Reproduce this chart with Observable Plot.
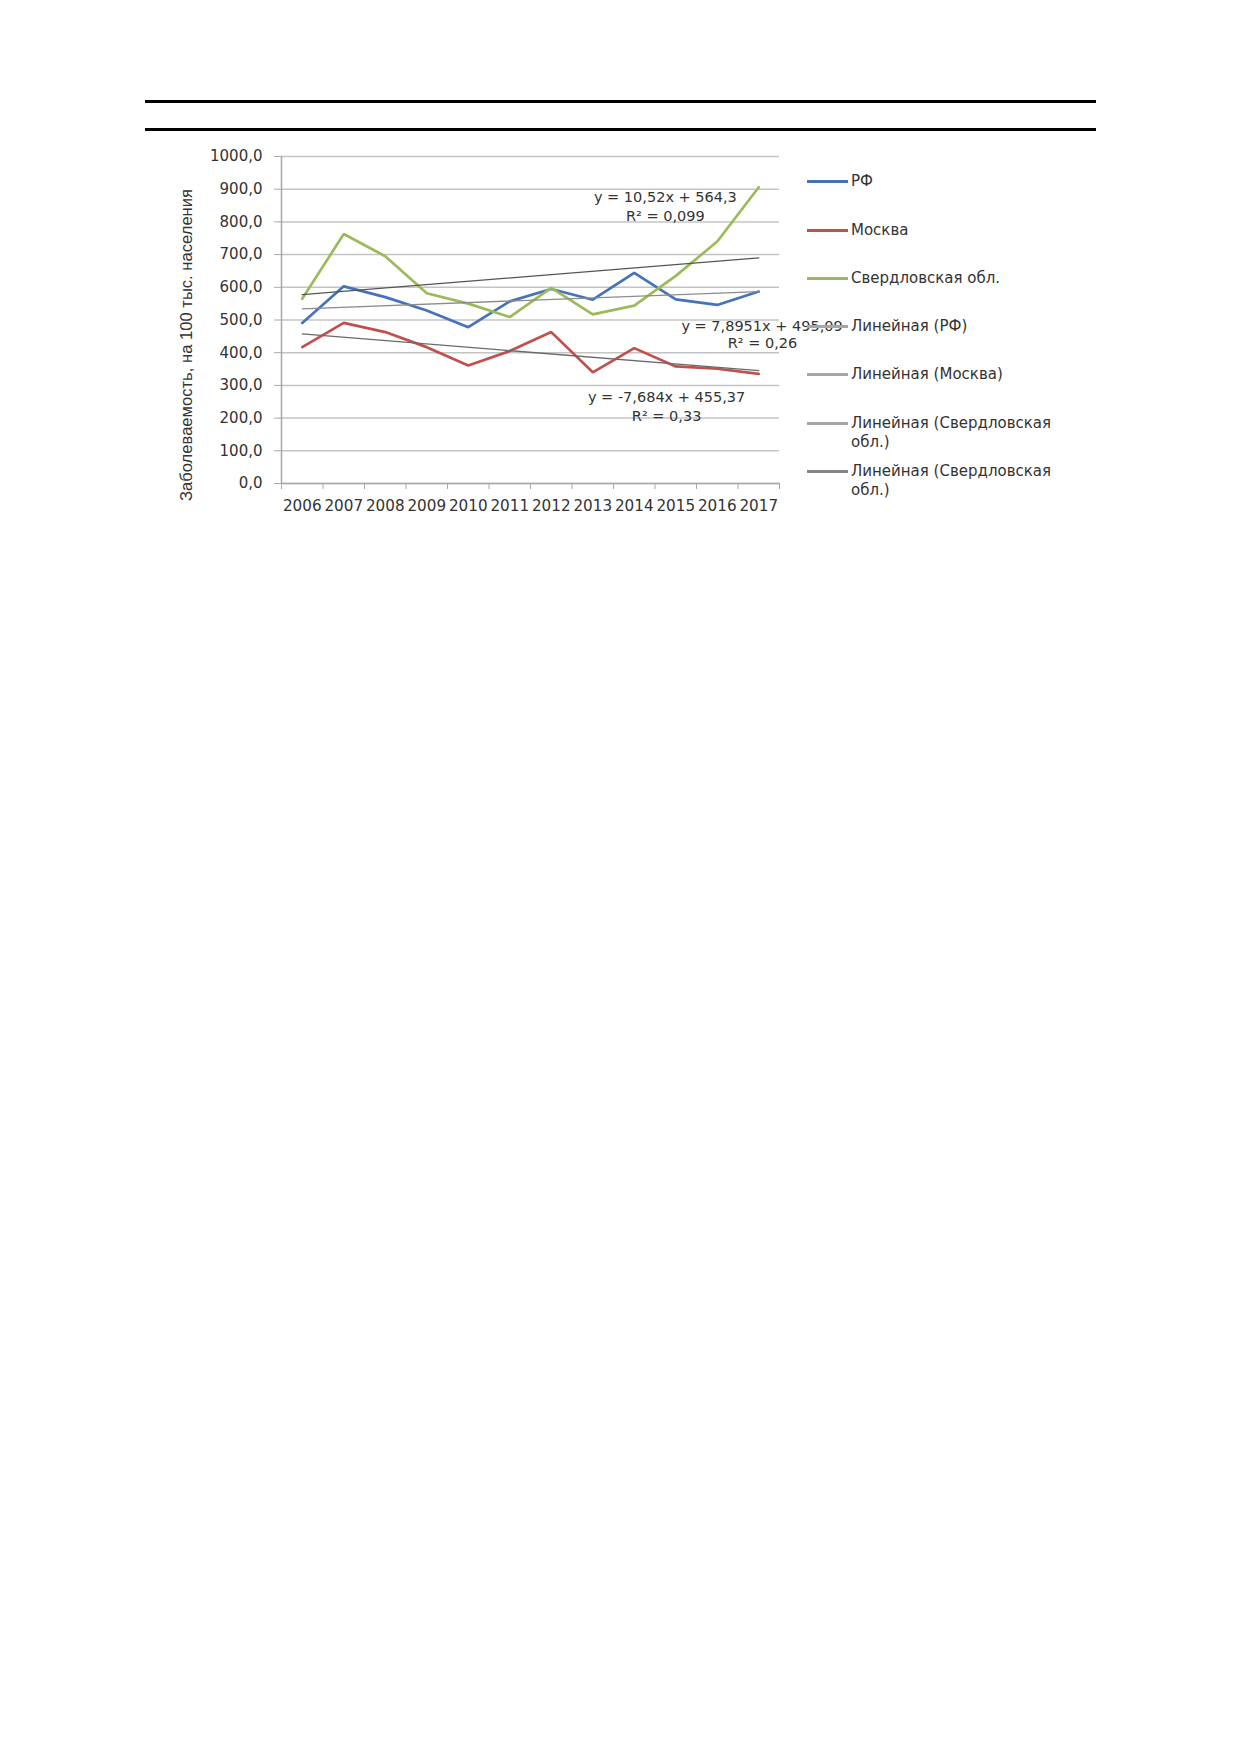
<!DOCTYPE html>
<html><head><meta charset="utf-8">
<script src="https://cdn.jsdelivr.net/npm/d3@7"></script>
<script src="https://cdn.jsdelivr.net/npm/@observablehq/plot@0.6"></script>
<style>
body{margin:0;background:#fff;}
#page{position:relative;width:1239px;height:1752px;background:#fff;overflow:hidden;}
.rule{position:absolute;left:145px;width:951px;height:3px;background:#000;z-index:2;}
#chart{position:absolute;left:0;top:0;z-index:1;}
#ytitle{position:absolute;left:187px;top:345px;transform:translate(-50%,-50%) rotate(-90deg);white-space:nowrap;font-family:"Liberation Sans",Arial,sans-serif;font-size:16.6px;color:#333;z-index:2;}
.leg{position:absolute;left:807px;font-family:"DejaVu Sans",sans-serif;font-size:15px;color:#333;line-height:19px;z-index:3;}
.leg .sw{position:absolute;left:0;top:8px;width:41px;height:3px;}
.leg .tx{position:absolute;left:44px;top:0;white-space:pre;}
</style></head><body><div id="page">
<div id="chart"></div>
<div class="rule" style="top:100px"></div>
<div class="rule" style="top:127.5px"></div>
<div id="ytitle"></div>
</div>
<script>
const years = [2006,2007,2008,2009,2010,2011,2012,2013,2014,2015,2016,2017];
const rf     = [491,603,570,529,478,557,595,562,644,563,546,587];
const moscow = [417,491,463,417,361,405,463,340,414,358,351,335];
const sverd  = [565,763,695,582,550,509,598,517,544,635,740,906];
const seriesNames = ["РФ","Москва","Свердловская обл."];
const seriesColors = ["#4473b9","#c0504d","#9bbb59"];
const trendColors = ["#8c8c8c","#6a6a6a","#555555"];
const yTicks = [0,100,200,300,400,500,600,700,800,900,1000];
const yTitle = "Заболеваемость, на 100 тыс. населения";
const legendLabels = ["РФ","Москва","Свердловская обл.","Линейная (РФ)","Линейная (Москва)","Линейная (Свердловская\nобл.)","Линейная (Свердловская\nобл.)"];
const legendColors = ["#4473b9","#c0504d","#9bbb59","#a6a6a6","#a6a6a6","#a6a6a6","#858585"];
const eqText = ["y = 10,52x + 564,3","R² = 0,099","y = 7,8951x + 495,09","R² = 0,26","y = -7,684x + 455,37","R² = 0,33"];
const eqX = [2014.75,2014.75,2017.08,2017.09,2014.78,2014.78];
const eqY = [875,817,480,428,264,205];

const rows = [];
[rf, moscow, sverd].forEach((arr, i) => arr.forEach((v, j) => rows.push({year: years[j], value: v, series: seriesNames[i]})));
const eqs = eqText.map((t, i) => ({t, x: eqX[i], y: eqY[i]}));
const bounds = d3.range(years.length + 1).map(i => years[0] - 0.5 + i);

const font = "DejaVu Sans, sans-serif";
const chart = Plot.plot({
  width: 1239, height: 560,
  marginLeft: 281, marginRight: 460, marginTop: 156, marginBottom: 77,
  style: {background: "#fff", fontFamily: font, fontSize: "15px", color: "#333"},
  x: {domain: [years[0] - 0.5, years[years.length - 1] + 0.5]},
  y: {domain: [0, 1000]},
  marks: [
    Plot.gridY(yTicks, {stroke: "#c4c4c4", strokeOpacity: 1, strokeWidth: 1.5}),
    Plot.ruleX([years[0] - 0.5], {stroke: "#a8a8a8", strokeWidth: 1.5}),
    Plot.ruleY([0], {stroke: "#a8a8a8", strokeWidth: 1.5}),
    Plot.axisY({ticks: yTicks, tickSize: 7, tickPadding: 12, stroke: "#a8a8a8", fill: "#333", fontSize: 15,
      tickFormat: d => d.toFixed(1).replace(".", ","), label: null}),
    Plot.axisX({ticks: bounds, tickSize: 6, stroke: "#a8a8a8", tickFormat: () => "", label: null}),
    Plot.axisX({ticks: years, tickSize: 0, tickPadding: 17, fill: "#333", fontSize: 15.2, tickFormat: d => String(d), label: null}),
    Plot.line(rows, {x: "year", y: "value", z: "series", stroke: d => seriesColors[seriesNames.indexOf(d.series)], strokeWidth: 2.7, strokeLinejoin: "miter"}),
    ...seriesNames.map((s, i) => Plot.linearRegressionY(rows.filter(d => d.series === s), {x: "year", y: "value", stroke: trendColors[i], strokeWidth: 1.3, ci: 0})),
    Plot.text(eqs, {x: "x", y: "y", text: "t", fill: "#333", fontSize: 14.5})
  ]
});
document.getElementById("chart").appendChild(chart);
document.getElementById("ytitle").textContent = yTitle;

const page = document.getElementById("page");
legendLabels.forEach((lab, i) => {
  const cy = 181.7 + i * 48.3;
  const e = document.createElement("div");
  e.className = "leg";
  e.style.top = (cy - 9.5) + "px";
  const sw = document.createElement("div");
  sw.className = "sw"; sw.style.background = legendColors[i];
  const tx = document.createElement("div");
  tx.className = "tx"; tx.textContent = lab;
  e.appendChild(sw); e.appendChild(tx);
  page.appendChild(e);
});
</script>
</body></html>
